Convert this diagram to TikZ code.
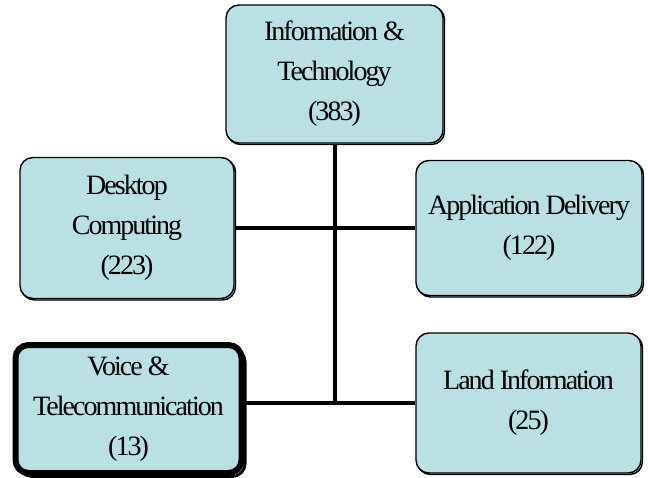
\documentclass[tikz,border=0pt]{standalone}
\usepackage{fontspec}
\usetikzlibrary{shadows,backgrounds}
\newfontfamily\boxserif{Liberation Serif}[LetterSpace=-7]
\newcommand\unitfont{\boxserif\fontsize{28}{40}\selectfont}
\definecolor{boxfill}{RGB}{186,224,227}

\tikzset{
  unitbase/.style={draw=black, fill=boxfill, rounded corners=13pt,
    align=center, inner sep=0pt, font=\unitfont},
  unit/.style={unitbase, line width=1.4pt,
    copy shadow={shadow xshift=1.5pt, shadow yshift=-1.5pt}},
  keyunit/.style={unitbase, line width=6pt,
    general shadow={shadow xshift=3.5pt, shadow yshift=-3.5pt, draw=black, line width=3pt},
    general shadow={shadow xshift=2pt, shadow yshift=-2pt, draw=white, line width=0.8pt}},
  link/.style={line width=4pt, draw=black}
}

\begin{document}
\begin{tikzpicture}[x=1pt, y=-1pt]
  \useasboundingbox (0,0) rectangle (648,477);

  % department boxes
  \node[unit, minimum width=217pt, minimum height=138pt] (it) at (334.5,74)
    {Information \&\\Technology\\(383)};
  \node[unit, minimum width=214pt, minimum height=141pt] (dc) at (127,228)
    {Desktop\\Computing\\(223)};
  \node[unit, minimum width=226pt, minimum height=135pt] (ad) at (529,228)
    {Application Delivery\\(122)};
  \node[unit, minimum width=225pt, minimum height=140pt] (li) at (528.5,403)
    {Land Information\\(25)};
  \node[keyunit, minimum width=226pt, minimum height=128pt] (vt) at (128.5,409)
    {Voice \&\\Telecommunication\\(13)};

  % connecting lines
  \begin{scope}[on background layer]
    \draw[link] (it.south) -- (it.south |- li.west);
    \draw[link] (dc.east) -- (ad.west);
    \draw[link] (vt.east |- li.west) -- (li.west);
  \end{scope}
\end{tikzpicture}
\end{document}
